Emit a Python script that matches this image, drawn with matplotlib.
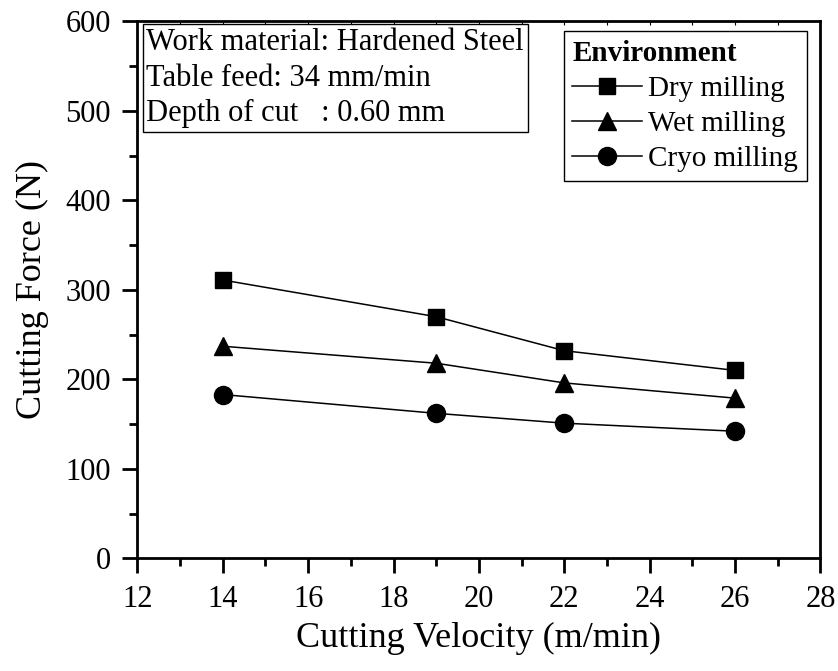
import matplotlib
matplotlib.use("Agg")
import matplotlib.pyplot as plt
from matplotlib.ticker import MultipleLocator

# Cutting velocity (m/min) and measured cutting force (N)
velocity = [14, 19, 22, 26]
force_dry = [311, 270, 232, 210]
force_wet = [237, 218, 196, 179]
force_cryo = [183, 162, 151, 142]

conditions = "Work material: Hardened Steel\nTable feed: 34 mm/min\nDepth of cut   : 0.60 mm"

plt.rcParams["font.family"] = ["Liberation Serif", "DejaVu Serif"]

fig = plt.figure(figsize=(8.38, 6.71), dpi=100)
ax = fig.add_axes([0.164, 0.168, 0.815, 0.8])

ax.plot(velocity, force_dry, color="black", lw=1.1, marker="s", ms=11, label="Dry milling")
ax.plot(velocity, force_wet, color="black", lw=1.1, marker="^", ms=13, label="Wet milling")
ax.plot(velocity, force_cryo, color="black", lw=1.1, marker="o", ms=13, label="Cryo milling")

ax.set_xlim(12, 28)
ax.set_ylim(0, 600)
ax.xaxis.set_major_locator(MultipleLocator(2))
ax.xaxis.set_minor_locator(MultipleLocator(1))
ax.yaxis.set_major_locator(MultipleLocator(100))
ax.yaxis.set_minor_locator(MultipleLocator(50))
ax.tick_params(which="major", direction="out", length=11, width=2, labelsize=22)
ax.tick_params(axis="x", which="major", pad=8)
ax.tick_params(axis="y", which="major", pad=8)
ax.tick_params(which="minor", direction="out", length=6, width=2)
# faint inward marks along the top edge
ax.tick_params(which="both", top=True, labeltop=False)
for t in ax.xaxis.get_major_ticks() + ax.xaxis.get_minor_ticks():
    t.tick2line.set_markersize(3)
    t.tick2line.set_markeredgewidth(0.8)
    t.tick2line.set_color("0.55")
    t.tick2line.set_marker(3)  # TICKDOWN -> points into the axes
for side in ax.spines.values():
    side.set_linewidth(2)

ax.set_xlabel("Cutting Velocity (m/min)", fontsize=26, labelpad=6)
ax.set_ylabel("Cutting Force (N)", fontsize=26, labelpad=12)

ax.text(0.013, 0.988, conditions, transform=ax.transAxes, fontsize=22,
        va="top", ha="left", linespacing=1.3,
        bbox=dict(boxstyle="square,pad=0.12", fc="white", ec="black", lw=1))

leg = ax.legend(loc="upper right", bbox_to_anchor=(0.98, 0.982), title="Environment",
                fontsize=21, title_fontproperties={"weight": "bold", "size": 21},
                fancybox=False, edgecolor="black", framealpha=1, handlelength=2.4,
                handletextpad=0.2, borderpad=0.3, labelspacing=0.3, borderaxespad=0)
leg._legend_box.align = "left"
leg.get_frame().set_linewidth(1)

fig.savefig("out.png", dpi=100)
